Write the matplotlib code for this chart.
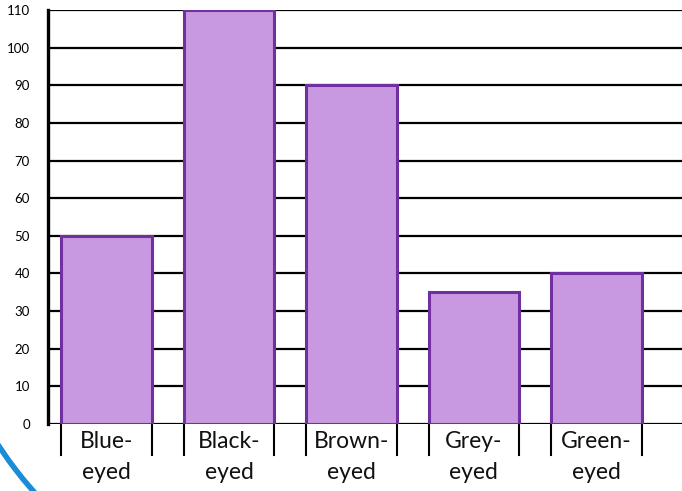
import numpy as np
import matplotlib.pyplot as plt
from matplotlib.patches import Arc

categories = ["Blue-\neyed", "Black-\neyed", "Brown-\neyed", "Grey-\neyed", "Green-\neyed"]
counts = [50, 110, 90, 35, 40]
yticks = [0, 10, 20, 30, 40, 50, 60, 70, 80, 90, 100, 110]

plt.rcParams['font.family'] = ['Lato', 'DejaVu Sans']

fig = plt.figure(figsize=(6.82, 4.91), dpi=100)
ax = fig.add_axes([48 / 682, 67 / 491, 1 - 48 / 682, 414 / 491])

x = np.arange(len(categories))
width = 0.74
ax.bar(x, counts, width=width, color="#C898E0", edgecolor="#7030A0",
       linewidth=2.2, zorder=3)

# horizontal rule lines behind the bars
for v in yticks:
    ax.axhline(v, color="black", linewidth=1.6, zorder=1)

ax.set_ylim(0, 110)
ax.set_xlim(-0.478, 4.70)
ax.set_yticks(yticks)
ax.set_yticklabels([str(v) for v in yticks], fontsize=9.5)
ax.tick_params(axis="y", length=0, pad=13)
ax.set_xticks([])

for s in ["top", "right", "bottom"]:
    ax.spines[s].set_visible(False)
ax.spines["left"].set_linewidth(2.4)
ax.spines["left"].set_zorder(4)

# little divider marks under the bar edges + two-line labels
for xi, lab in zip(x, categories):
    for e in (xi - width / 2, xi + width / 2):
        ax.plot([e, e], [0, -8.2], color="black", linewidth=1.5, clip_on=False)
    ax.text(xi, -1.8, lab, ha="center", va="top", fontsize=16.5,
            linespacing=1.6, color="#111111", clip_on=False)

# blue decorative arc in the corner
arc = Arc((366, 290), 883, 883, angle=0, theta1=205, theta2=230,
          transform=None, color="#1B8CD8", linewidth=4, zorder=5)
fig.add_artist(arc)

fig.savefig("out.png", dpi=100)
